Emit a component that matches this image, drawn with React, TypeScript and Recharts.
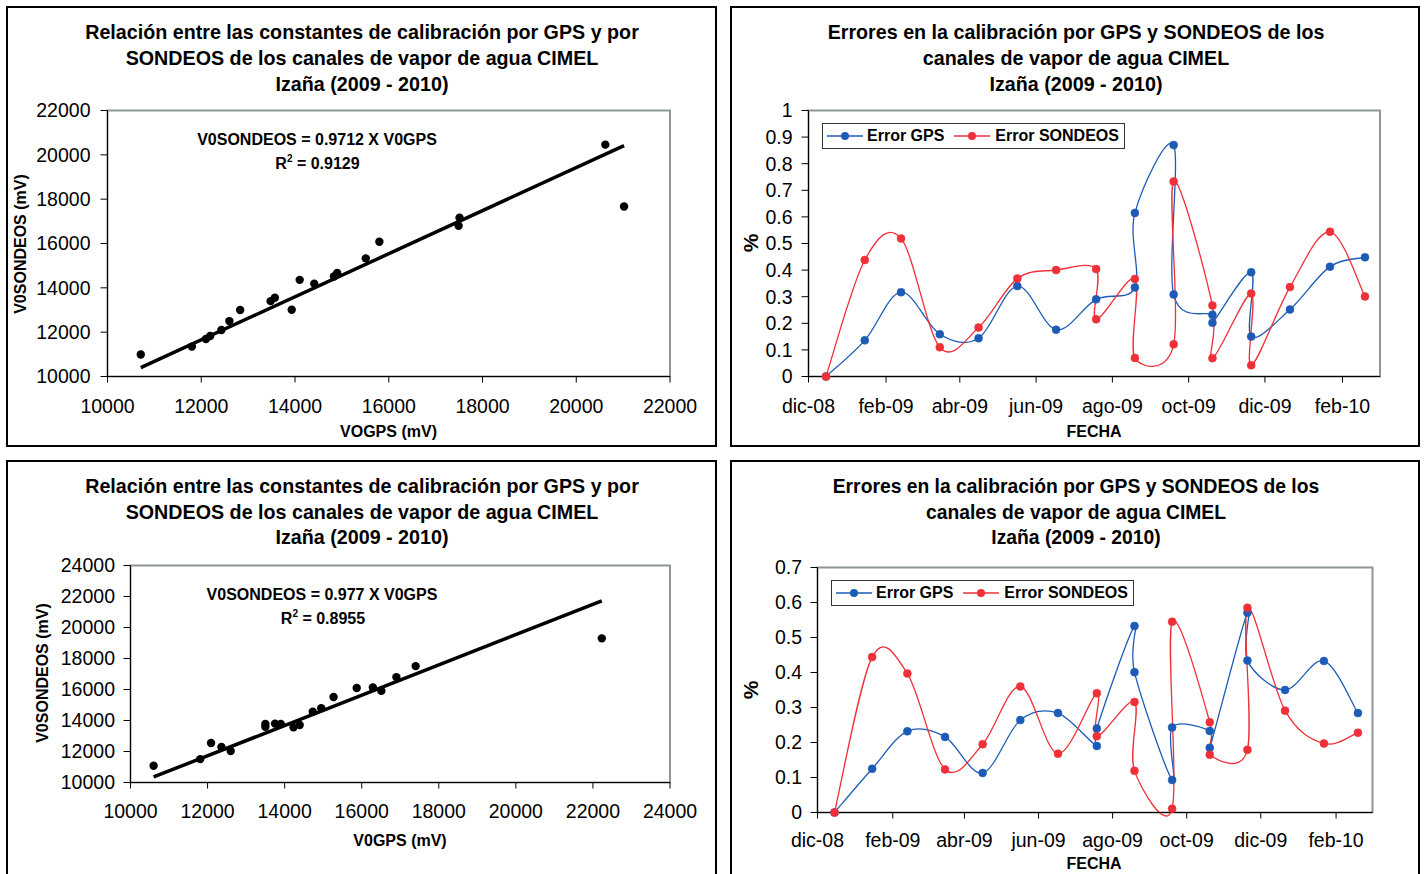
import React from "react";
import {
  ScatterChart,
  Scatter,
  LineChart,
  Line,
  XAxis,
  YAxis,
  ReferenceLine,
  ReferenceArea,
} from "recharts";

const FONT = '"Liberation Sans", Arial, Helvetica, sans-serif';
const BLUE = "#1d5cb6";
const RED = "#ef3038";
const FRAME = "#8d9597";

// calibration constants in mV, upper scatter
const v0gpsA = [10710, 11800, 12100, 12190, 12430, 12600, 12830, 13480, 13570, 13930, 14100, 14410, 14830, 14900, 15510, 15800, 17510, 17490, 20620, 21020];
const v0sondeosA = [10990, 11350, 11690, 11830, 12100, 12500, 13000, 13400, 13550, 13010, 14360, 14190, 14510, 14670, 15330, 16080, 17160, 16800, 20460, 17670];
const slopeA = 0.9712;
const r2A = "0.9129";

// lower scatter
const v0gpsB = [10600, 11810, 12090, 12360, 12600, 13500, 13500, 13750, 13900, 14230, 14390, 14730, 14950, 15270, 15870, 16290, 16510, 16900, 17400, 22230];
const v0sondeosB = [11080, 11510, 12550, 12290, 12030, 13770, 13600, 13800, 13770, 13560, 13710, 14570, 14790, 15520, 16100, 16130, 15910, 16800, 17510, 19300];
const slopeB = 0.977;
const r2B = "0.8955";

const mvTicksA = [10000, 12000, 14000, 16000, 18000, 20000, 22000];
const mvTicksB = [10000, 12000, 14000, 16000, 18000, 20000, 22000, 24000];

// dates as days counted from 1-dic-2008
const monthTicks = [0, 62, 121, 182, 243, 304, 365, 427];
const monthLabels = ["dic-08", "feb-09", "abr-09", "jun-09", "ago-09", "oct-09", "dic-09", "feb-10"];
const dayMax = 457;

const pctTicksA = [0, 0.1, 0.2, 0.3, 0.4, 0.5, 0.6, 0.7, 0.8, 0.9, 1];
const pctTicksB = [0, 0.1, 0.2, 0.3, 0.4, 0.5, 0.6, 0.7];

// upper error chart
const gpsDaysA = [14, 45, 74, 105, 136, 167, 198, 230, 261, 261, 292, 292, 323, 323, 354, 354, 385, 417, 445];
const gpsErrA = [0, 0.136, 0.317, 0.159, 0.144, 0.34, 0.176, 0.29, 0.335, 0.615, 0.87, 0.308, 0.232, 0.202, 0.392, 0.15, 0.252, 0.413, 0.448];
const sondeosDaysA = [14, 45, 74, 105, 136, 167, 198, 230, 230, 261, 261, 292, 292, 323, 323, 354, 354, 385, 417, 445];
const sondeosErrA = [0, 0.438, 0.519, 0.11, 0.184, 0.368, 0.4, 0.404, 0.215, 0.367, 0.07, 0.121, 0.733, 0.267, 0.069, 0.312, 0.042, 0.336, 0.544, 0.301];

// lower error chart
const gpsDaysB = [14, 45, 74, 105, 136, 167, 198, 230, 230, 261, 261, 292, 292, 323, 323, 354, 354, 385, 417, 445];
const gpsErrB = [0, 0.125, 0.232, 0.216, 0.113, 0.264, 0.284, 0.19, 0.24, 0.533, 0.401, 0.093, 0.243, 0.233, 0.185, 0.571, 0.434, 0.35, 0.433, 0.284];
const sondeosDaysB = [14, 45, 74, 105, 136, 167, 198, 230, 230, 261, 261, 292, 292, 323, 323, 354, 354, 385, 417, 445];
const sondeosErrB = [0, 0.444, 0.397, 0.123, 0.195, 0.36, 0.168, 0.341, 0.218, 0.316, 0.119, 0.011, 0.545, 0.258, 0.165, 0.179, 0.585, 0.291, 0.197, 0.228];

const seriesNames = ["Error GPS", "Error SONDEOS"];

const titleScatter = [
  "Relación entre las constantes de calibración por GPS y por",
  "SONDEOS de los canales de vapor de agua CIMEL",
  "Izaña (2009 - 2010)",
];
const titleErrors = [
  "Errores en la calibración por GPS y SONDEOS de los",
  "canales de vapor de agua CIMEL",
  "Izaña (2009 - 2010)",
];

const tickStyle = { fill: "#000", fontSize: 19.5, fontFamily: FONT };

// Excel-like smoothed line (Catmull-Rom through every point, also for equal x)
const excelSmooth = (context: any) => {
  let pts: number[][] = [];
  return {
    areaStart() {},
    areaEnd() {},
    lineStart() {
      pts = [];
    },
    point(x: number, y: number) {
      pts.push([+x, +y]);
    },
    lineEnd() {
      const n = pts.length;
      if (!n) return;
      context.moveTo(pts[0][0], pts[0][1]);
      for (let i = 0; i < n - 1; i++) {
        const p0 = pts[Math.max(i - 1, 0)];
        const p1 = pts[i];
        const p2 = pts[i + 1];
        const p3 = pts[Math.min(i + 2, n - 1)];
        context.bezierCurveTo(
          p1[0] + (p2[0] - p0[0]) / 6,
          p1[1] + (p2[1] - p0[1]) / 6,
          p2[0] - (p3[0] - p1[0]) / 6,
          p2[1] - (p3[1] - p1[1]) / 6,
          p2[0],
          p2[1]
        );
      }
    },
  };
};

const dotShape = (props: any) => <circle cx={props.cx} cy={props.cy} r={4.2} fill="#000" />;

function T({ x, y, size = 16, bold = true, rotate = 0, children }: any) {
  return (
    <div
      style={{
        position: "absolute",
        left: x,
        top: y,
        transform: `translate(-50%, -50%) rotate(${rotate}deg)`,
        whiteSpace: "nowrap",
        fontSize: size,
        fontWeight: bold ? "bold" : "normal",
        lineHeight: 1,
        color: "#000",
      }}
    >
      {children}
    </div>
  );
}

function Box({ left, top, width, height }: any) {
  return (
    <div
      style={{
        position: "absolute",
        left,
        top,
        width,
        height,
        boxSizing: "border-box",
        border: "2px solid #000",
      }}
    />
  );
}

function Key({ color }: { color: string }) {
  return (
    <svg width={36} height={10} style={{ display: "block" }}>
      <line x1={0} y1={5} x2={36} y2={5} stroke={color} strokeWidth={1.3} />
      <circle cx={18} cy={5} r={4} fill={color} />
    </svg>
  );
}

function ErrorLegend({ left, top }: any) {
  return (
    <div
      style={{
        position: "absolute",
        left,
        top,
        width: 303,
        height: 26,
        boxSizing: "border-box",
        border: "1.5px solid #333",
        display: "flex",
        alignItems: "center",
        paddingLeft: 4,
        fontSize: 16,
        fontWeight: "bold",
        background: "#fff",
      }}
    >
      <Key color={BLUE} />
      <span style={{ marginLeft: 4 }}>{seriesNames[0]}</span>
      <span style={{ width: 10 }} />
      <Key color={RED} />
      <span style={{ marginLeft: 5 }}>{seriesNames[1]}</span>
    </div>
  );
}

function ScatterPanel(p: any) {
  const points = p.xs.map((x: number, i: number) => ({ x, y: p.ys[i] }));
  const lo = p.ticks[0];
  const hi = p.ticks[p.ticks.length - 1];
  const x0 = Math.min(...p.xs);
  const x1 = Math.max(...p.xs);
  return (
    <div style={{ position: "absolute", left: p.left, top: p.top }}>
      <ScatterChart width={p.width} height={p.height} margin={p.margin}>
        <ReferenceArea x1={lo} x2={hi} y1={lo} y2={hi} fill="none" stroke={FRAME} strokeWidth={2} ifOverflow="visible" />
        <XAxis
          type="number"
          dataKey="x"
          domain={[lo, hi]}
          ticks={p.ticks}
          interval={0}
          height={p.xHeight}
          tickSize={6}
          tickMargin={p.xTickMargin}
          stroke="#000"
          tick={tickStyle}
        />
        <YAxis
          type="number"
          dataKey="y"
          domain={[lo, hi]}
          ticks={p.ticks}
          interval={0}
          width={p.yWidth}
          tickSize={7}
          tickMargin={p.yTickMargin}
          stroke="#000"
          tick={tickStyle}
        />
        <ReferenceLine
          segment={[
            { x: x0, y: p.slope * x0 },
            { x: x1, y: p.slope * x1 },
          ]}
          stroke="#000"
          strokeWidth={3.5}
          ifOverflow="visible"
        />
        <Scatter data={points} fill="#000" shape={dotShape} isAnimationActive={false} />
      </ScatterChart>
    </div>
  );
}

function ErrorPanel(p: any) {
  const gps = p.gpsDays.map((d: number, i: number) => ({ d, v: p.gpsErr[i] }));
  const snd = p.sondeosDays.map((d: number, i: number) => ({ d, v: p.sondeosErr[i] }));
  const vmax = p.ticks[p.ticks.length - 1];
  return (
    <div style={{ position: "absolute", left: p.left, top: p.top }}>
      <LineChart width={p.width} height={p.height} margin={p.margin}>
        <ReferenceArea x1={0} x2={dayMax} y1={0} y2={vmax} fill="none" stroke={FRAME} strokeWidth={2} ifOverflow="visible" />
        <XAxis
          type="number"
          dataKey="d"
          domain={[0, dayMax]}
          ticks={monthTicks}
          tickFormatter={(v: number) => monthLabels[monthTicks.indexOf(v)]}
          interval={0}
          height={p.xHeight}
          tickSize={6}
          tickMargin={p.xTickMargin}
          stroke="#000"
          tick={tickStyle}
        />
        <YAxis
          type="number"
          domain={[0, vmax]}
          ticks={p.ticks}
          interval={0}
          width={p.yWidth}
          tickSize={7}
          tickMargin={p.yTickMargin}
          stroke="#000"
          tick={tickStyle}
        />
        <Line
          data={gps}
          dataKey="v"
          name={seriesNames[0]}
          type={excelSmooth as any}
          stroke={BLUE}
          strokeWidth={1.3}
          dot={{ r: 4, fill: BLUE, stroke: BLUE, strokeWidth: 0.5 }}
          isAnimationActive={false}
        />
        <Line
          data={snd}
          dataKey="v"
          name={seriesNames[1]}
          type={excelSmooth as any}
          stroke={RED}
          strokeWidth={1.3}
          dot={{ r: 4, fill: RED, stroke: RED, strokeWidth: 0.5 }}
          isAnimationActive={false}
        />
      </LineChart>
    </div>
  );
}

export default function App() {
  return (
    <div
      style={{
        position: "absolute",
        left: 0,
        top: 0,
        width: 1426,
        height: 874,
        overflow: "hidden",
        background: "#fff",
        fontFamily: FONT,
      }}
    >
      <Box left={6} top={6} width={711} height={441} />
      <Box left={730} top={6} width={690} height={441} />
      <Box left={6} top={460} width={711} height={500} />
      <Box left={730} top={460} width={690} height={500} />

      {/* upper left: scatter */}
      {titleScatter.map((t, i) => (
        <T key={"a" + i} x={362} y={33 + i * 26} size={19.7}>{t}</T>
      ))}
      <ScatterPanel
        left={0}
        top={0}
        width={716}
        height={446}
        margin={{ top: 110.5, right: 46, bottom: 9.5, left: 7.5 }}
        yWidth={100}
        xHeight={60}
        xTickMargin={17}
        yTickMargin={10}
        xs={v0gpsA}
        ys={v0sondeosA}
        slope={slopeA}
        ticks={mvTicksA}
      />
      <T x={317} y={140}>V0SONDEOS = {slopeA} X V0GPS</T>
      <T x={317.5} y={164}>
        R<sup style={{ fontSize: 10, verticalAlign: "baseline", position: "relative", top: -7 }}>2</sup> = {r2A}
      </T>
      <T x={388.5} y={431.5}>VOGPS (mV)</T>
      <T x={21} y={243.5} rotate={-90}>V0SONDEOS (mV)</T>

      {/* upper right: errors */}
      {titleErrors.map((t, i) => (
        <T key={"b" + i} x={1076} y={33 + i * 26} size={19.7}>{t}</T>
      ))}
      <ErrorPanel
        left={731}
        top={0}
        width={689}
        height={446}
        margin={{ top: 110.5, right: 40, bottom: 9.5, left: 7.5 }}
        yWidth={70}
        xHeight={60}
        xTickMargin={17}
        yTickMargin={9}
        ticks={pctTicksA}
        gpsDays={gpsDaysA}
        gpsErr={gpsErrA}
        sondeosDays={sondeosDaysA}
        sondeosErr={sondeosErrA}
      />
      <ErrorLegend left={822} top={123} />
      <T x={1094} y={431.5}>FECHA</T>
      <T x={750} y={243} size={21} rotate={-90}>%</T>

      {/* lower left: scatter */}
      {titleScatter.map((t, i) => (
        <T key={"c" + i} x={362} y={487 + i * 25.5} size={19.7}>{t}</T>
      ))}
      <ScatterPanel
        left={0}
        top={454}
        width={716}
        height={420}
        margin={{ top: 111.5, right: 46, bottom: 31.5, left: 30.5 }}
        yWidth={100}
        xHeight={60}
        xTickMargin={16}
        yTickMargin={8.5}
        xs={v0gpsB}
        ys={v0sondeosB}
        slope={slopeB}
        ticks={mvTicksB}
      />
      <T x={322} y={595}>V0SONDEOS = {slopeB} X V0GPS</T>
      <T x={323} y={619}>
        R<sup style={{ fontSize: 10, verticalAlign: "baseline", position: "relative", top: -7 }}>2</sup> = {r2B}
      </T>
      <T x={400} y={841}>V0GPS (mV)</T>
      <T x={43} y={673} rotate={-90}>V0SONDEOS (mV)</T>

      {/* lower right: errors */}
      {titleErrors.map((t, i) => (
        <T key={"d" + i} x={1076} y={487 + i * 25.5} size={19.3}>{t}</T>
      ))}
      <ErrorPanel
        left={731}
        top={454}
        width={689}
        height={420}
        margin={{ top: 113.5, right: 47.5, bottom: 11.5, left: 6.5 }}
        yWidth={80}
        xHeight={50}
        xTickMargin={15}
        yTickMargin={8.5}
        ticks={pctTicksB}
        gpsDays={gpsDaysB}
        gpsErr={gpsErrB}
        sondeosDays={sondeosDaysB}
        sondeosErr={sondeosErrB}
      />
      <ErrorLegend left={831} top={580} />
      <T x={1094} y={864}>FECHA</T>
      <T x={750} y={690} size={21} rotate={-90}>%</T>
    </div>
  );
}
